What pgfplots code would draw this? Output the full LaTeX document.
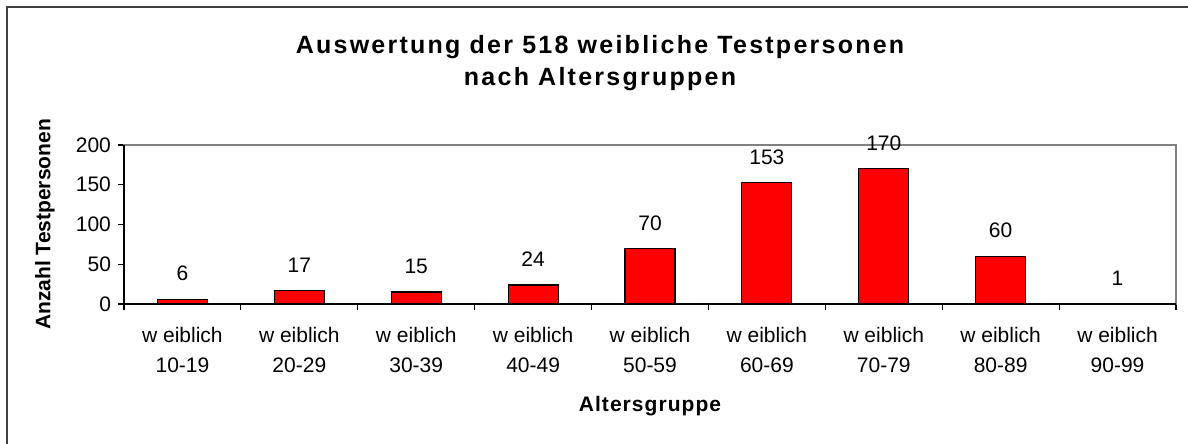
\documentclass[border=0pt]{standalone}
\usepackage{fontspec}
\setmainfont{Liberation Sans}
\usepackage{pgfplots}
\pgfplotsset{compat=1.18}
\definecolor{frame}{HTML}{404040}
\definecolor{plotframe}{HTML}{808080}
\begin{document}
\begin{tikzpicture}[x=1pt,y=1pt]
\useasboundingbox (0,0) rectangle (594,222);
\draw[line width=1.2pt, color=frame] (3.5,0) -- (3.5,218.5) -- (594,218.5);
\begin{axis}[
  at={(62pt,70pt)}, anchor=south west,
  scale only axis, width=526pt, height=79.5pt,
  xmin=-0.5, xmax=8.5, ymin=0, ymax=200,
  axis line style={draw=plotframe, line width=0.6pt},
  ytick={0,50,100,150,200},
  xtick={0,1,2,3,4,5,6,7,8},
  xticklabels={{w eiblich\\10-19},{w eiblich\\20-29},{w eiblich\\30-39},{w eiblich\\40-49},{w eiblich\\50-59},{w eiblich\\60-69},{w eiblich\\70-79},{w eiblich\\80-89},{w eiblich\\90-99}},
  minor xtick={-0.5,0.5,1.5,2.5,3.5,4.5,5.5,6.5,7.5,8.5},
  xtick pos=bottom, ytick pos=left,
  tick align=outside,
  major tick length=3pt, minor tick length=3pt,
  major x tick style={draw=none},
  minor x tick style={draw=black, line width=0.6pt},
  major y tick style={draw=black, line width=0.6pt},
  /pgf/number format/assume math mode=true,
  xticklabel style={align=center, font=\fontsize{10.5}{15}\selectfont, yshift=-5pt},
  yticklabel style={font=\fontsize{10.5}{12}\selectfont},
  title={Auswertung der 518 weibliche Testpersonen\\nach Altersgruppen},
  title style={at={(rel axis cs:0.4525,1.44)}, anchor=center, align=center, yshift=0pt,
    font=\fontsize{12.5}{16}\selectfont\bfseries\addfontfeatures{LetterSpace=9}},
  xlabel={Altersgruppe},
  xlabel style={at={(rel axis cs:0.5,-0.645)}, anchor=center,
    font=\fontsize{10.5}{12}\selectfont\bfseries\addfontfeatures{LetterSpace=5}},
  ylabel={Anzahl Testpersonen},
  ylabel style={at={(rel axis cs:-0.0751,0.5)}, anchor=center,
    font=\fontsize{10.5}{12}\selectfont\bfseries},
  ybar, bar width=25pt,
  nodes near coords,
  every node near coord/.append style={font=\fontsize{10.5}{12}\selectfont, inner sep=0pt, anchor=south, yshift=8.75pt, black},
  clip=false,
]
\addplot[fill=red, draw=black, line width=0.6pt] coordinates {
  (0,6) (1,17) (2,15) (3,24) (4,70) (5,153) (6,170) (7,60) (8,1)
};
\draw[black, line width=0.6pt] (rel axis cs:0,1) -- (rel axis cs:0,0) -- (rel axis cs:1,0);
\end{axis}
\end{tikzpicture}
\end{document}
